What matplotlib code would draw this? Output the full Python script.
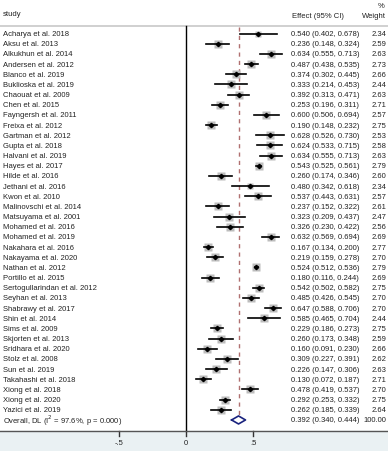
import numpy as np
import matplotlib.pyplot as plt

plt.rcParams['font.family'] = ['Liberation Sans', 'DejaVu Sans']

studies = ["Acharya et al. 2018", "Aksu et al. 2013", "Alkukhun et al. 2014", "Andersen et al. 2012",
           "Blanco et al. 2019", "Buklioska et al. 2019", "Chaouat et al. 2009", "Chen et al. 2015",
           "Fayngersh et al. 2011", "Freixa et al. 2012", "Gartman et al. 2012", "Gupta et al. 2018",
           "Halvani et al. 2019", "Hayes et al. 2017", "Hilde et al. 2016", "Jethani et al. 2016",
           "Kwon et al. 2010", "Malinovschi et al. 2014", "Matsuyama et al. 2001", "Mohamed et al. 2016",
           "Mohamed et al. 2019", "Nakahara et al. 2016", "Nakayama et al. 2020", "Nathan et al. 2012",
           "Portillo et al. 2015", "Sertogullarindan et al. 2012", "Seyhan et al. 2013", "Shabrawy et al. 2017",
           "Shin et al. 2014", "Sims et al. 2009", "Skjorten et al. 2013", "Sridhara et al. 2020",
           "Stolz et al. 2008", "Sun et al. 2019", "Takahashi et al. 2018", "Xiong et al. 2018",
           "Xiong et al. 2020", "Yazici et al. 2019"]
effect = [0.540, 0.236, 0.634, 0.487, 0.374, 0.333, 0.392, 0.253, 0.600, 0.190,
          0.628, 0.624, 0.634, 0.543, 0.260, 0.480, 0.537, 0.237, 0.323, 0.326,
          0.632, 0.167, 0.219, 0.524, 0.180, 0.542, 0.485, 0.647, 0.585, 0.229,
          0.260, 0.160, 0.309, 0.226, 0.130, 0.478, 0.292, 0.262]
lower = [0.402, 0.148, 0.555, 0.438, 0.302, 0.214, 0.313, 0.196, 0.506, 0.148,
         0.526, 0.533, 0.555, 0.525, 0.174, 0.342, 0.443, 0.152, 0.209, 0.230,
         0.569, 0.134, 0.159, 0.512, 0.116, 0.502, 0.426, 0.588, 0.465, 0.186,
         0.173, 0.091, 0.227, 0.147, 0.072, 0.419, 0.253, 0.185]
upper = [0.678, 0.324, 0.713, 0.535, 0.445, 0.453, 0.471, 0.311, 0.694, 0.232,
         0.730, 0.715, 0.713, 0.561, 0.346, 0.618, 0.631, 0.322, 0.437, 0.422,
         0.694, 0.200, 0.278, 0.536, 0.244, 0.582, 0.545, 0.706, 0.704, 0.273,
         0.348, 0.230, 0.391, 0.306, 0.187, 0.537, 0.332, 0.339]
weight = [2.34, 2.59, 2.63, 2.73, 2.66, 2.44, 2.63, 2.71, 2.57, 2.75,
          2.53, 2.58, 2.63, 2.79, 2.60, 2.34, 2.57, 2.61, 2.47, 2.56,
          2.69, 2.77, 2.70, 2.79, 2.69, 2.75, 2.70, 2.70, 2.44, 2.75,
          2.59, 2.66, 2.62, 2.63, 2.71, 2.70, 2.75, 2.64]
overall_label = "Overall, DL (I$^2$ = 97.6%, p = 0.000)"
overall = (0.392, 0.340, 0.444)
xticks = [-0.5, 0, 0.5]
xticklabels = ["-.5", "0", ".5"]

W, H = 388, 452
fig = plt.figure(figsize=(W / 100, H / 100), dpi=100)
ax = fig.add_axes([0, 0, 1, 1])
# x in effect units (0 at px 186, 134 px per unit), y in pixels
x0, scale = 186, 134.0
ax.set_xlim(-x0 / scale, (W - x0) / scale)
ax.set_ylim(H, 0)
ax.axis('off')

def px(p):
    return (p - x0) / scale

fs = 5.5
tc = '#222222'
row0, step = 34.5, 10.17
n = len(studies)
ys = row0 + np.arange(n) * step
y_over = row0 + n * step
y_axis = 431.5

# bottom band + axis
ax.axhspan(y_axis, H, color='#EAF1F3', zorder=0)
ax.axhline(y_axis, color='#555555', lw=1.0, zorder=3)
ax.axhline(26.5, color='#C8C8C8', lw=1.2)

for t, lab in zip(xticks, xticklabels):
    ax.plot([t, t], [y_axis, y_axis + 5], color='#333333', lw=1.0)
    ax.text(t, 444, lab, ha='center', va='center', fontsize=fs, color=tc)

ax.plot([0, 0], [26.5, y_axis], color='black', lw=1.0, zorder=2)
ax.plot([overall[0], overall[0]], [28, y_over - 4], color='#B07070', lw=1.0,
        ls=(0, (3, 3)), zorder=2)

# headers
ax.text(px(3), 15, "study", ha='left', va='center', fontsize=fs, color=tc)
ax.text(px(292), 16, "Effect (95% CI)", ha='left', va='center', fontsize=fs, color=tc)
ax.text(px(384), 7, "%", ha='right', va='center', fontsize=fs, color=tc)
ax.text(px(386), 16, "Weight", ha='right', va='center', fontsize=fs, color=tc)

for i in range(n):
    y = ys[i]
    ax.plot([lower[i], upper[i]], [y, y], color='black', lw=1.2, zorder=3)
    ms = 5.4 * np.sqrt(weight[i] / 2.79)
    ax.plot(effect[i], y, marker='s', ms=ms, color='#BDBDBD', mec='none', zorder=2)
    ax.plot(effect[i], y, marker='D', ms=2.2, color='black', zorder=4)
    ax.text(px(3), y, studies[i], ha='left', va='center', fontsize=fs, color=tc)
    ax.text(px(291), y, "%.3f (%.3f, %.3f)" % (effect[i], lower[i], upper[i]),
            ha='left', va='center', fontsize=fs, color=tc)
    ax.text(px(386), y, "%.2f" % weight[i], ha='right', va='center', fontsize=fs, color=tc)

# overall diamond
dx = [overall[1], overall[0], overall[2], overall[0], overall[1]]
dy = [y_over, y_over - 4, y_over, y_over + 4, y_over]
ax.plot(dx, dy, color='#1A237E', lw=1.2, zorder=4)
ax.text(px(3), y_over, overall_label, ha='left', va='center', fontsize=fs, color=tc)
ax.text(px(291), y_over, "%.3f (%.3f, %.3f)" % overall, ha='left', va='center', fontsize=fs, color=tc)
ax.text(px(386), y_over, "100.00", ha='right', va='center', fontsize=fs, color=tc)

fig.savefig('out.png', dpi=100)
